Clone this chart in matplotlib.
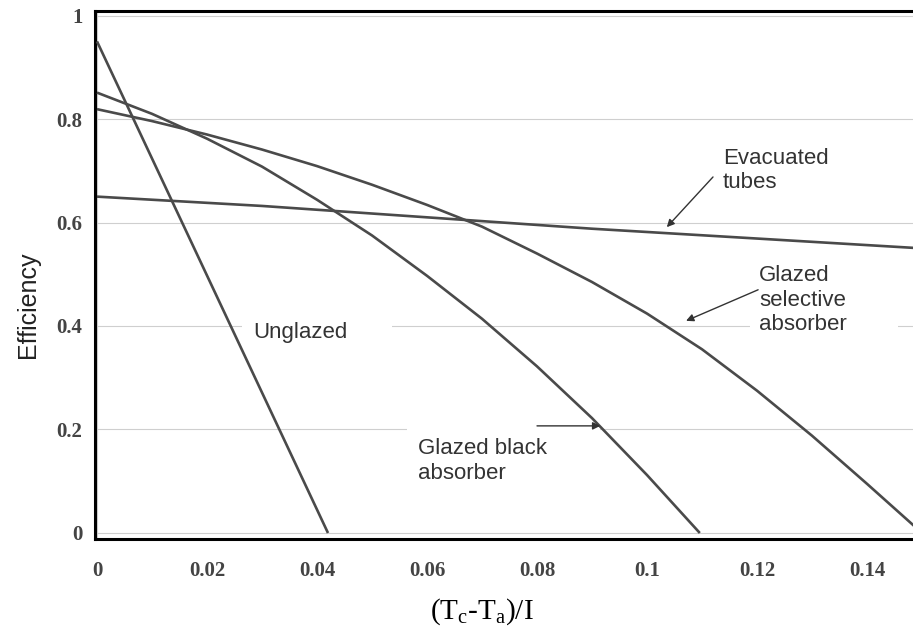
import matplotlib as mpl
import matplotlib.pyplot as plt
from matplotlib.patches import Rectangle

# data
unglazed_x = [0.0, 0.042]
unglazed_y = [0.950, 0.0]

black_x = [0.0, 0.01, 0.02, 0.03, 0.04, 0.05, 0.06, 0.07, 0.08, 0.09, 0.10, 0.1096]
black_y = [0.851, 0.810, 0.762, 0.708, 0.644, 0.575, 0.497, 0.414, 0.322, 0.222, 0.112, 0.0]

selective_x = [0.0, 0.01, 0.02, 0.03, 0.04, 0.05, 0.06, 0.07, 0.08, 0.09, 0.10, 0.11, 0.12, 0.13, 0.14, 0.15]
selective_y = [0.819, 0.796, 0.770, 0.741, 0.709, 0.673, 0.634, 0.592, 0.540, 0.485, 0.424, 0.355, 0.275, 0.188, 0.095, 0.0]

evac_x = [0.0, 0.03, 0.06, 0.09, 0.12, 0.15]
evac_y = [0.650, 0.632, 0.610, 0.588, 0.569, 0.550]

xticks = [0, 0.02, 0.04, 0.06, 0.08, 0.1, 0.12, 0.14]
xtick_labels = ['0', '0.02', '0.04', '0.06', '0.08', '0.1', '0.12', '0.14']
yticks = [0, 0.2, 0.4, 0.6, 0.8, 1.0]
ytick_labels = ['0', '0.2', '0.4', '0.6', '0.8', '1']

# configuration
mpl.rcParams['font.family'] = 'Liberation Sans'
line_color = '#4a4a4a'
grid_color = '#cfcfcf'

fig = plt.figure(figsize=(9.13, 6.35), dpi=100)
ax = fig.add_axes([95/913, 96/635, 818/913, 528/635])
ax.set_xlim(-0.00036, 0.14836)
ax.set_ylim(-0.0116, 1.0087)

# grid
for yv in yticks:
    ax.axhline(yv, color=grid_color, lw=0.8, zorder=1)
ax.axvline(0, color=grid_color, lw=0.8, zorder=1)

# white patches behind the labels (they break the grid lines)
for x0, y0, w, h in [(0.0264, 0.35, 0.0273, 0.07),
                     (0.1187, 0.36, 0.0269, 0.17),
                     (0.0564, 0.07, 0.0236, 0.16),
                     (0.0800, 0.19, 0.0115, 0.04)]:
    ax.add_patch(Rectangle((x0, y0), w, h, facecolor='white', edgecolor='none', zorder=2))

# curves
for xs, ys in [(unglazed_x, unglazed_y), (black_x, black_y),
               (selective_x, selective_y), (evac_x, evac_y)]:
    ax.plot(xs, ys, color=line_color, lw=1.9, zorder=4, solid_capstyle='butt')

# labels
txt = dict(fontsize=16, color='#333333', ha='left', va='center', zorder=3)
ax.text(0.1138, 0.7005, 'Evacuated\ntubes', **txt)
ax.text(0.1204, 0.450, 'Glazed\nselective\nabsorber', **txt)
ax.text(0.0284, 0.3865, 'Unglazed', **txt)
ax.text(0.0584, 0.139, 'Glazed black\nabsorber', **txt)

arrow = dict(arrowstyle='-|>', color='#333333', lw=1.0, mutation_scale=11, shrinkA=0, shrinkB=0)
ax.annotate('', xy=(0.1036, 0.591), xytext=(0.1120, 0.688), arrowprops=arrow, zorder=5)
ax.annotate('', xy=(0.1071, 0.410), xytext=(0.1202, 0.470), arrowprops=arrow, zorder=5)
ax.annotate('', xy=(0.0915, 0.207), xytext=(0.0800, 0.207), arrowprops=arrow, zorder=5)

# axes styling
for side in ['left', 'bottom', 'top']:
    ax.spines[side].set_linewidth(2.2)
    ax.spines[side].set_color('black')
ax.spines['right'].set_visible(False)

ax.set_xticks(xticks)
ax.set_xticklabels(xtick_labels)
ax.set_yticks(yticks)
ax.set_yticklabels(ytick_labels)
ax.tick_params(length=0)
ax.tick_params(axis='x', pad=16)
ax.tick_params(axis='y', pad=9)
for lab in ax.get_xticklabels() + ax.get_yticklabels():
    lab.set_fontfamily('Liberation Serif')
    lab.set_fontweight('bold')
    lab.set_fontsize(15)
    lab.set_color('#444444')

fig.text(28/913, 1 - 305/635, 'Efficiency', rotation=90, ha='center', va='center',
         fontsize=18, color='#222222')
fig.text(482/913, 1 - 612/635, r'(T$_\mathregular{c}$-T$_\mathregular{a}$)/I', ha='center', va='center',
         fontsize=21, family='Liberation Serif', color='black')

plt.savefig('out.png', dpi=100)
